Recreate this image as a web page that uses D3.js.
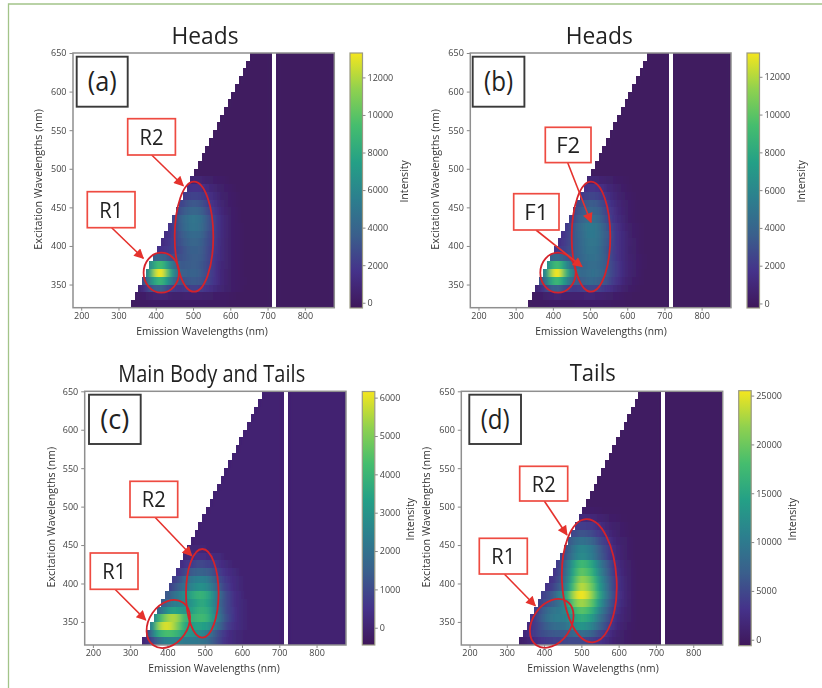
<!DOCTYPE html>
<html>
<head>
<meta charset="utf-8">
<script src="https://cdn.jsdelivr.net/npm/d3@7"></script>
<style>
  html, body { margin: 0; padding: 0; background: #fff; }
  svg { display: block; font-family: "Open Sans", sans-serif; filter: blur(0.45px); }
</style>
</head>
<body>
<div id="figure"></div>
<script>
// excitation row edges (nm), emission bin edges (nm), tick labels
const excitationRows = d3.range(320, 650, 10);
const emissionBins = d3.range(333, 883, 10).filter(e => e !== 713); // 713-723 is missing in the scan
const emissionTicks = [200, 300, 400, 500, 600, 700, 800];
const excitationTicks = [350, 400, 450, 500, 550, 600, 650];

// intensity / 100, one line per excitation row from 320 nm up.
// each line starts at the first measured emission bin of that row, the rest is 0
const headsA = [
  [0,1,1,1,1,2,2,2,2,2,2,2,2,2,2,2,2,2,2,2,2,1,1,1,1,1],
  [1,2,3,4,6,7,8,8,7,6,5,5,5,6,6,6,6,6,5,5,4,3,3,2,2,1,1],
  [8,14,22,30,36,38,36,30,24,20,18,18,20,21,22,22,21,19,17,14,11,9,7,5,4,3,2,1],
  [28,45,62,78,88,87,74,56,42,34,31,31,33,34,34,32,29,25,20,16,12,9,6,4,3,2,1,1],
  [55,85,118,133,130,108,80,58,44,38,36,37,38,38,35,31,26,21,16,12,9,6,4,3,2,1],
  [62,82,92,90,76,58,44,36,34,34,35,36,36,34,30,26,21,16,12,9,7,5,3,2,1],
  [36,40,40,35,30,28,28,30,32,34,36,36,35,32,28,22,17,13,10,7,5,3,2,1],
  [16,17,18,20,22,25,28,32,35,37,38,36,33,28,23,18,14,10,7,5,3,2,1],
  [12,15,18,22,27,31,35,38,40,40,38,34,29,24,19,14,10,7,5,3,2,1],
  [13,17,22,28,33,38,41,43,43,41,36,31,25,20,15,11,8,5,3,2,1],
  [17,23,30,37,42,46,48,48,45,40,34,27,21,16,11,8,5,3,2,1],
  [24,31,38,43,47,49,49,46,41,34,27,21,16,11,8,5,3,2],
  [24,30,35,38,40,40,38,33,28,22,17,13,9,6,4,3,2],
  [24,28,31,33,33,31,27,23,18,14,10,7,5,3,2,1],
  [19,22,24,24,23,20,17,13,10,8,5,4,3,2,1],
  [15,17,17,16,14,12,9,7,5,4,3,2,1],
  [7,8,7,6,5,4,3,2,2,1]
];
const headsB = [
  [0,1,1,1,1,2,2,2,2,2,2,2,3,3,3,3,3,3,3,3,2,2,2,1,1,1],
  [1,2,3,4,6,7,8,8,7,6,6,6,6,7,8,8,8,7,7,6,5,4,3,3,2,1,1],
  [8,14,22,30,36,38,36,30,25,21,20,21,23,25,26,26,25,23,20,17,14,11,8,6,4,3,2,1],
  [30,46,63,80,90,88,75,58,45,37,35,36,39,41,41,40,37,33,28,23,18,14,10,7,5,3,2,1],
  [55,86,118,133,130,108,80,60,48,43,42,43,45,46,45,42,38,32,26,21,16,12,9,6,4,3,1],
  [62,82,92,90,76,58,46,40,39,40,42,44,45,44,41,37,32,26,21,16,12,9,7,5,3,2,1],
  [38,42,42,37,32,32,34,37,41,44,46,47,45,42,37,31,25,20,15,11,8,6,4,3,2,1],
  [18,20,22,25,29,33,38,42,46,48,48,46,42,37,30,24,19,15,11,8,5,4,2,1],
  [15,19,23,28,33,38,43,47,50,50,48,44,38,32,26,20,15,11,8,6,4,2,1],
  [17,22,28,34,39,44,48,51,51,49,45,39,33,26,20,15,11,8,5,3,2,1],
  [20,26,33,40,45,49,52,52,49,44,37,30,24,18,13,10,7,4,3,2,1],
  [22,28,35,40,43,45,45,43,38,32,26,20,15,11,8,5,3,2,1],
  [24,30,35,38,40,40,38,34,28,23,18,13,10,7,5,3,2,1],
  [26,30,33,35,35,33,29,24,20,15,11,8,6,4,3,2,1],
  [20,23,25,25,24,21,18,14,11,8,6,4,3,2,1],
  [16,18,18,17,15,13,10,8,6,4,3,2,1],
  [8,9,8,7,6,5,4,3,2,2,1]
];
const bodyTails = [
  [1,4,9,14,18,22,24,25,25,24,23,22,22,22,22,21,20,18,15,12,9,6,4,3,2,1,1],
  [10,20,30,37,41,43,43,41,38,35,32,30,29,28,27,25,22,18,14,10,7,5,3,2,1,1],
  [24,40,52,58,59,58,54,48,42,36,33,33,34,34,33,31,27,22,17,13,9,6,4,3,2,1],
  [26,38,46,52,55,55,52,45,40,38,38,40,41,41,38,33,27,21,16,11,8,5,3,2,1],
  [17,22,28,32,34,33,31,30,31,34,37,38,38,36,31,25,19,14,10,7,5,3,2,1],
  [14,18,21,23,24,25,26,28,31,34,36,36,33,29,23,18,13,10,7,4,3,2,1],
  [13,16,19,22,25,28,32,36,38,39,38,35,30,24,19,14,10,7,4,3,2],
  [8,11,14,17,20,23,26,28,29,28,26,22,18,14,10,7,5,3,2,1],
  [7,10,13,17,20,22,24,24,24,22,18,15,11,8,6,4,3,2,1],
  [5,7,9,12,14,15,16,15,14,12,10,7,5,4,3,2,1],
  [3,5,6,8,9,10,9,8,7,6,4,3,2,1],
  [1,2,3,4,4,4,3,3,2,2,1],
  [1,1,1,1,1]
];
const tails = [
  [6,10,14,20,26,30,34,38,40,42,44,46,48,50,50,50,50,48,46,42,38,33,27,22,17,12,9,6,4,3],
  [18,26,34,42,48,54,58,62,64,64,64,66,70,78,84,86,84,80,72,62,51,41,31,23,16,11,8,5,3],
  [22,30,40,50,60,70,78,84,86,88,92,102,115,126,130,128,120,109,95,78,62,48,35,25,17,12,8,5,3],
  [32,44,58,72,86,96,102,104,104,108,120,136,152,160,157,149,135,117,96,77,59,43,30,21,14,10,6,4],
  [40,52,66,80,90,96,98,104,118,138,160,180,190,188,177,160,139,114,91,70,51,36,25,17,11,8,4],
  [40,50,58,66,72,84,100,125,155,190,215,225,222,209,190,164,135,108,83,61,43,29,20,14,9,5],
  [42,50,60,75,95,120,150,185,220,245,255,250,237,214,186,153,122,94,69,48,33,23,15,10,5],
  [30,38,48,62,82,108,140,175,210,235,230,218,197,171,141,113,87,63,45,30,21,14,9,5],
  [28,36,50,70,95,125,160,195,220,216,205,185,160,132,106,81,59,42,29,20,13,9,4],
  [30,44,62,85,115,145,175,195,191,181,164,142,117,94,72,53,37,25,18,12,8,4],
  [38,58,80,108,135,160,175,172,163,147,128,105,84,65,47,33,23,16,10,7,3],
  [45,60,78,95,112,120,118,112,100,88,72,58,44,32,23,16,11,7,5,2],
  [55,72,90,106,115,113,107,97,84,69,55,43,31,22,15,10,7,5,2],
  [62,74,86,90,88,84,76,66,54,43,33,24,17,12,8,6,4,2],
  [48,56,60,58,55,50,43,36,29,22,16,12,8,5,4,2],
  [38,42,41,39,35,30,25,20,15,11,8,6,4,3,2],
  [19,20,19,17,14,12,10,7,5,4,3,2,1],
  [5,4,4,3,3,2,2,1,1,1]
];

const ticksHeads = [0, 2000, 4000, 6000, 8000, 10000, 12000];
const ticksBody = [0, 1000, 2000, 3000, 4000, 5000, 6000];
const ticksTails = [0, 5000, 10000, 15000, 20000, 25000];

const viridisStops = ['#3f175a', '#45328a', '#3a5f8c', '#2c7f8e', '#24a086', '#45bd6e', '#8fd14f', '#f5e61e'];

// page layout, in pixels of the 822x688 figure
const panels = [
  {
    title: 'Heads', titleX: 205, titleY: 44, titleW: 67, values: headsA, ticks: ticksHeads, range: [-280, 13300],
    left: 73, right: 334.3, top: 53, bottom: 307.7, barLeft: 350, barTop: 53, barBottom: 308,
    intensityX: 405, xLabelX: 202, yLabelX: 39,
    tag: {text: '(a)', x: 76.7, y: 56.7, w: 51, h: 50},
    boxes: [
      {text: 'R2', x: 127.7, y: 118.7, w: 47.7, h: 36.3, from: [151.7, 155], to: [183.3, 185.7]},
      {text: 'R1', x: 87.3, y: 191.7, w: 47.7, h: 36, from: [111.7, 227.7], to: [143.3, 258.3]}
    ],
    rings: [
      {cx: 194, cy: 236.7, rx: 19.3, ry: 55, rot: 0},
      {cx: 161.3, cy: 272.7, rx: 17.7, ry: 20, rot: 0}
    ]
  },
  {
    title: 'Heads', titleX: 599.3, titleY: 44, titleW: 67, values: headsB, ticks: ticksHeads, range: [-240, 13260],
    left: 470.3, right: 731, top: 53, bottom: 307.7, barLeft: 747, barTop: 53, barBottom: 308,
    intensityX: 801.7, xLabelX: 601, yLabelX: 436,
    tag: {text: '(b)', x: 472.7, y: 56.7, w: 51.7, h: 50},
    boxes: [
      {text: 'F2', x: 545.3, y: 127.3, w: 45.7, h: 35.3, from: [567.7, 162.7], to: [591, 222.3]},
      {text: 'F1', x: 513.7, y: 193.7, w: 45.3, h: 36.3, from: [536, 230], to: [582, 266.7]}
    ],
    rings: [
      {cx: 591, cy: 236.7, rx: 19.3, ry: 55, rot: 0},
      {cx: 558, cy: 272.7, rx: 17.7, ry: 20, rot: 0}
    ]
  },
  {
    title: 'Main Body and Tails', titleX: 211.7, titleY: 381.7, titleW: 187, values: bodyTails, ticks: ticksBody, range: [-450, 6160],
    left: 84.7, right: 346, top: 391.3, bottom: 645, barLeft: 362.3, barTop: 391.5, barBottom: 645,
    intensityX: 411, xLabelX: 214, yLabelX: 52,
    tag: {text: '(c)', x: 89, y: 394.7, w: 51.7, h: 49.3},
    boxes: [
      {text: 'R2', x: 130, y: 481.3, w: 47.7, h: 36, from: [155, 517.3], to: [191.7, 555.7]},
      {text: 'R1', x: 90.3, y: 553, w: 47.7, h: 36.3, from: [115, 589.3], to: [145.7, 620]}
    ],
    rings: [
      {cx: 202.3, cy: 593.3, rx: 16.3, ry: 44.3, rot: 0},
      {cx: 168.3, cy: 624, rx: 19.3, ry: 26, rot: 35}
    ]
  },
  {
    title: 'Tails', titleX: 592.7, titleY: 381.3, titleW: 46, values: tails, ticks: ticksTails, range: [-610, 25500],
    left: 461.3, right: 722.7, top: 391.3, bottom: 645, barLeft: 738.7, barTop: 390.7, barBottom: 645.7,
    intensityX: 792.7, xLabelX: 593, yLabelX: 427,
    tag: {text: '(d)', x: 469.3, y: 394.7, w: 51.7, h: 49.3},
    boxes: [
      {text: 'R2', x: 519.7, y: 466.3, w: 48, h: 34.7, from: [544.3, 501], to: [567, 535]},
      {text: 'R1', x: 479.3, y: 538.3, w: 48, h: 35.7, from: [504.3, 574], to: [535.3, 605.7]}
    ],
    rings: [
      {cx: 589.3, cy: 580.7, rx: 27.3, ry: 61.7, rot: -3},
      {cx: 551.7, cy: 623.3, rx: 19, ry: 26.7, rot: 35}
    ]
  }
];

const svg = d3.select('#figure').append('svg')
  .attr('width', 822)
  .attr('height', 688);

const defs = svg.append('defs');
defs.append('marker')
  .attr('id', 'arrow-head')
  .attr('viewBox', '0 0 10 10')
  .attr('refX', 9)
  .attr('refY', 5)
  .attr('markerUnits', 'userSpaceOnUse')
  .attr('markerWidth', 12)
  .attr('markerHeight', 10)
  .attr('orient', 'auto')
  .append('path')
  .attr('d', 'M0,0L10,5L0,10Z')
  .attr('fill', '#e5322d');

// the scan is smeared along emission, not along excitation
defs.append('filter')
  .attr('id', 'smear')
  .append('feGaussianBlur')
  .attr('stdDeviation', '2.2 0.5');

// green page frame
svg.append('path')
  .attr('d', 'M8.5,688V4H822')
  .attr('fill', 'none')
  .attr('stroke', '#a3c489')
  .attr('stroke-width', 1.3);

panels.forEach((p, idx) => {
  const x = d3.scaleLinear().domain([178, 879]).range([p.left, p.right]);
  const y = d3.scaleLinear().domain([320, 650]).range([p.bottom, p.top]);
  const n = viridisStops.length - 1;
  const colour = d3.scaleLinear()
    .domain(viridisStops.map((c, i) => p.range[0] + (p.range[1] - p.range[0]) * i / n))
    .range(viridisStops);

  const g = svg.append('g').attr('class', 'panel');

  // one rect per measured cell
  const cells = [];
  excitationRows.forEach((ex, r) => {
    const line = p.values[r] || [];
    emissionBins.forEach((em, c) => {
      if (c < r) return;
      cells.push({ex, em, v: (line[c - r] || 0) * 100});
    });
  });
  const drawCells = (parent) => parent.selectAll('rect')
    .data(cells)
    .join('rect')
    .attr('x', d => x(d.em))
    .attr('y', d => y(d.ex + 10))
    .attr('width', d => Math.min(x(d.em + 10), p.right) - x(d.em))
    .attr('height', d => y(d.ex) - y(d.ex + 10))
    .attr('fill', d => colour(d.v))
    .attr('shape-rendering', 'crispEdges');

  // clip for the smeared copy, so it stays inside the measured cells
  const clipId = 'cells-' + idx;
  drawCells(defs.append('clipPath').attr('id', clipId));
  drawCells(g.append('g'));
  drawCells(g.append('g').attr('clip-path', `url(#${clipId})`).append('g').attr('filter', 'url(#smear)'));

  // axes
  const xAxis = d3.axisBottom(x).tickValues(emissionTicks).tickSize(3).tickPadding(2);
  const yAxis = d3.axisLeft(y).tickValues(excitationTicks).tickSize(3.5).tickPadding(3);
  g.append('g')
    .attr('class', 'axis')
    .attr('transform', `translate(0,${p.bottom})`)
    .call(xAxis);
  g.append('g')
    .attr('class', 'axis')
    .attr('transform', `translate(${p.left},0)`)
    .call(yAxis);
  g.selectAll('.axis .domain').remove();
  g.selectAll('.axis line').attr('stroke', '#888');
  g.selectAll('.axis text').attr('font-size', 9).attr('fill', '#444').attr('font-family', '"Open Sans", sans-serif');

  g.append('rect')
    .attr('x', p.left)
    .attr('y', p.top)
    .attr('width', p.right - p.left)
    .attr('height', p.bottom - p.top)
    .attr('fill', 'none')
    .attr('stroke', '#8f8f8f')
    .attr('stroke-width', 1.5);

  g.append('text')
    .attr('x', p.xLabelX)
    .attr('y', p.bottom + 27)
    .attr('text-anchor', 'middle')
    .attr('font-size', 10.3)
    .attr('fill', '#333')
    .text('Emission Wavelengths (nm)');
  g.append('text')
    .attr('transform', `translate(${p.yLabelX},${(p.top + p.bottom) / 2 - 1}) rotate(-90)`)
    .attr('text-anchor', 'middle')
    .attr('dominant-baseline', 'middle')
    .attr('font-size', 10.7)
    .attr('fill', '#333')
    .text('Excitation Wavelengths (nm)');

  g.append('text')
    .attr('x', p.titleX)
    .attr('y', p.titleY)
    .attr('text-anchor', 'middle')
    .attr('font-size', 24)
    .attr('textLength', p.titleW)
    .attr('lengthAdjust', 'spacingAndGlyphs')
    .attr('fill', '#222')
    .text(p.title);

  // colour bar
  const barWidth = 12.5;
  const gradId = 'bar-' + idx;
  defs.append('linearGradient')
    .attr('id', gradId)
    .attr('x1', 0).attr('x2', 0).attr('y1', 1).attr('y2', 0)
    .selectAll('stop')
    .data(viridisStops)
    .join('stop')
    .attr('offset', (d, i) => i / n)
    .attr('stop-color', d => d);
  g.append('rect')
    .attr('x', p.barLeft)
    .attr('y', p.barTop)
    .attr('width', barWidth)
    .attr('height', p.barBottom - p.barTop)
    .attr('fill', `url(#${gradId})`)
    .attr('stroke', '#9a9a84')
    .attr('stroke-width', 1.2);
  const barScale = d3.scaleLinear().domain(p.range).range([p.barBottom, p.barTop]);
  const barAxis = d3.axisRight(barScale).tickValues(p.ticks).tickSize(3).tickPadding(2).tickFormat(d3.format('d'));
  const barG = g.append('g')
    .attr('transform', `translate(${p.barLeft + barWidth},0)`)
    .call(barAxis);
  barG.select('.domain').remove();
  barG.selectAll('line').attr('stroke', '#888');
  barG.selectAll('text').attr('font-size', 9).attr('fill', '#444').attr('font-family', '"Open Sans", sans-serif');
  g.append('text')
    .attr('transform', `translate(${p.intensityX},${(p.top + p.bottom) / 2 + 1}) rotate(-90)`)
    .attr('text-anchor', 'middle')
    .attr('dominant-baseline', 'middle')
    .attr('font-size', 10.6)
    .attr('fill', '#333')
    .text('Intensity');

  // (a) style tag
  g.append('rect')
    .attr('x', p.tag.x).attr('y', p.tag.y)
    .attr('width', p.tag.w).attr('height', p.tag.h)
    .attr('fill', '#fff')
    .attr('stroke', '#3a3a3a')
    .attr('stroke-width', 1.9);
  g.append('text')
    .attr('x', p.tag.x + p.tag.w / 2)
    .attr('y', p.tag.y + 34)
    .attr('text-anchor', 'middle')
    .attr('font-size', 28)
    .attr('textLength', 29)
    .attr('lengthAdjust', 'spacingAndGlyphs')
    .attr('fill', '#222')
    .text(p.tag.text);

  // rings, label boxes and arrows
  g.selectAll('.ring')
    .data(p.rings)
    .join('ellipse')
    .attr('class', 'ring')
    .attr('transform', d => `translate(${d.cx},${d.cy}) rotate(${d.rot})`)
    .attr('rx', d => d.rx)
    .attr('ry', d => d.ry)
    .attr('fill', 'none')
    .attr('stroke', '#d4232b')
    .attr('stroke-width', 1.8);
  g.selectAll('.arrow')
    .data(p.boxes)
    .join('line')
    .attr('class', 'arrow')
    .attr('x1', d => d.from[0]).attr('y1', d => d.from[1])
    .attr('x2', d => d.to[0]).attr('y2', d => d.to[1])
    .attr('stroke', '#e5322d')
    .attr('stroke-width', 1.6)
    .attr('marker-end', 'url(#arrow-head)');
  g.selectAll('.box')
    .data(p.boxes)
    .join('rect')
    .attr('class', 'box')
    .attr('x', d => d.x).attr('y', d => d.y)
    .attr('width', d => d.w).attr('height', d => d.h)
    .attr('fill', '#fff')
    .attr('stroke', '#ee4b41')
    .attr('stroke-width', 1.7);
  g.selectAll('.box-label')
    .data(p.boxes)
    .join('text')
    .attr('class', 'box-label')
    .attr('x', d => d.x + d.w / 2)
    .attr('y', d => d.y + d.h / 2 + 8)
    .attr('text-anchor', 'middle')
    .attr('font-size', 22)
    .attr('textLength', 24)
    .attr('lengthAdjust', 'spacingAndGlyphs')
    .attr('fill', '#222')
    .text(d => d.text);
});
</script>
</body>
</html>
